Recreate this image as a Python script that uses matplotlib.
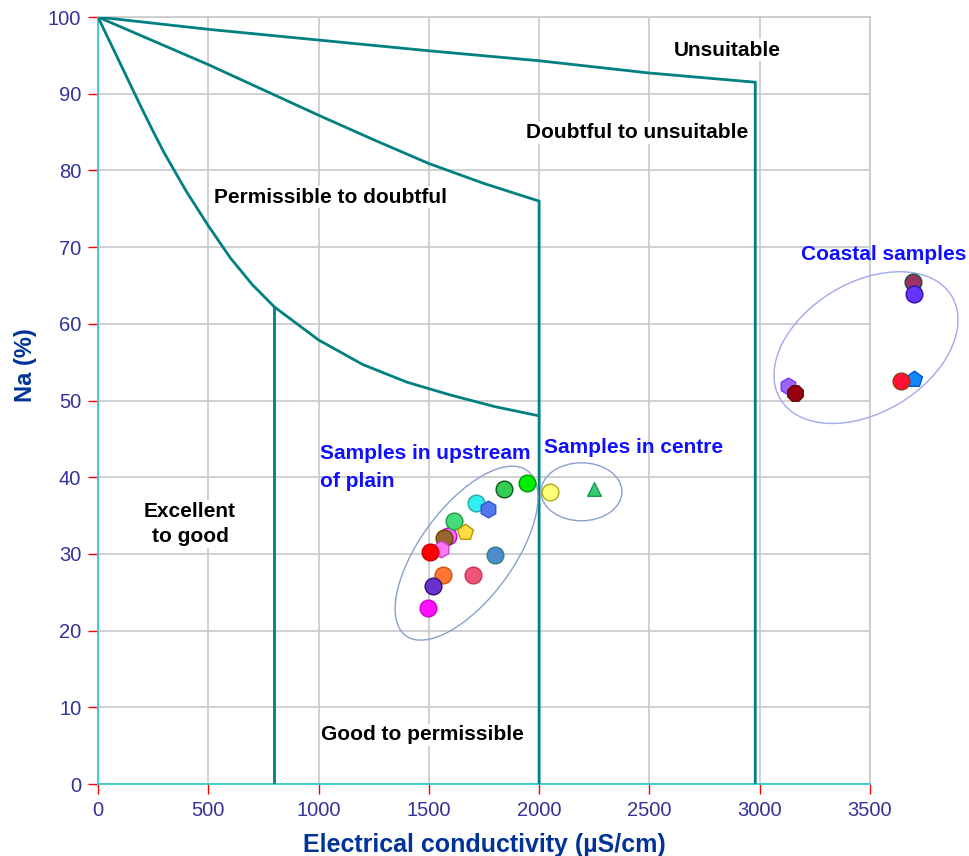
import numpy as np
import matplotlib
matplotlib.use("Agg")
import matplotlib.pyplot as plt
from matplotlib.patches import Ellipse
from matplotlib.transforms import ScaledTranslation

plt.rcParams['font.family'] = ['Liberation Sans', 'DejaVu Sans']

# Wilcox diagram boundaries
low_ec = [0, 50, 100, 150, 200, 250, 300, 400, 500, 600, 700, 800, 1000, 1200, 1400, 1600, 1800, 2000]
low_na = [100, 97.0, 94.0, 91.0, 88.0, 85.1, 82.3, 77.3, 72.8, 68.6, 65.1, 62.2, 57.9, 54.7, 52.4,
          50.7, 49.2, 48.0]
mid_ec = [0, 250, 500, 750, 1000, 1250, 1500, 1750, 2000, 2000]
mid_na = [100, 96.9, 93.8, 90.5, 87.2, 84.0, 80.9, 78.3, 76.0, 0]
top_ec = [0, 500, 1000, 1500, 2000, 2500, 2980, 2980]
top_na = [100, 98.4, 97.0, 95.6, 94.3, 92.7, 91.5, 0]
split_ec = [800, 800]
split_na = [0, 62.2]

# samples: EC (uS/cm), Na (%)
ec = [1586, 1568, 1843, 1943, 1715, 1767, 1613, 1666, 1553, 1506, 1802, 1566, 1702, 1518, 1498,
      2050, 2251,
      3695, 3698, 3701, 3642, 3128, 3161]
na = [32.3, 32.1, 38.4, 39.3, 36.7, 35.8, 34.3, 32.8, 30.6, 30.3, 29.8, 27.2, 27.3, 25.8, 23.0,
      38.1, 38.4,
      65.5, 63.9, 52.85, 52.5, 51.9, 51.0]
fills = ['#ff66ff', '#996633', '#33cc55', '#00ee00', '#33eeee', '#5577ee', '#44dd77', '#ffdd44',
         '#ff77ff', '#ff0000', '#4d8ccc', '#ff7733', '#ee5577', '#6633cc', '#ff11ff',
         '#ffff77', '#33cc77',
         '#993366', '#6633ff', '#1188ff', '#ff1133', '#9966ff', '#990011']
edges = ['#cc00cc', '#664400', '#115522', '#009900', '#22aaaa', '#3355cc', '#229944', '#bb9900',
         '#cc44cc', '#cc0000', '#228888', '#cc5511', '#cc3355', '#331177', '#cc00cc',
         '#aaaa22', '#119944',
         '#115533', '#3311aa', '#0055cc', '#993311', '#7733ff', '#660000']
shapes = ['o', 'o', 'o', 'o', 'o', 'h', 'o', 'p', 'h', 'o', 'o', 'o', 'o', 'o', 'o',
          'o', '^',
          'o', 'o', 'p', 'o', 'h', '8']

teal = '#008080'
navy = '#003399'

fig = plt.figure(figsize=(9.69, 8.56), dpi=100)
ax = fig.add_axes([0.1011, 0.0841, 0.7967, 0.896])

for xs, ys in [(low_ec, low_na), (mid_ec, mid_na), (top_ec, top_na), (split_ec, split_na)]:
    ax.plot(xs, ys, color=teal, lw=2, zorder=3, solid_joinstyle='miter')

for x, y, fc, e, m in zip(ec, na, fills, edges, shapes):
    s = 95 if m == '^' else 145
    ax.scatter(x, y, s=s, marker=m, c=fc, edgecolors=e, linewidths=1, zorder=5, clip_on=False)

# group outlines, sized in inches around a data centre
groups = [(1671, 30.1, 2.05, 0.93, 53.6, '#8aa0cc'),
          (2192, 38.1, 0.81, 0.58, 0, '#8aa0cc'),
          (3482, 56.9, 2.0, 1.3, 31, '#9fa8f0')]
for cx, cy, w, h, ang, col in groups:
    tr = fig.dpi_scale_trans + ScaledTranslation(cx, cy, ax.transData)
    el = Ellipse((0, 0), w, h, angle=ang, fill=False, edgecolor=col, lw=1,
                 transform=tr, clip_on=False, zorder=4)
    ax.add_patch(el)

box = dict(facecolor='white', edgecolor='none', pad=1)
zone_txt = dict(fontsize=15, fontweight='bold', color='black', ha='center', va='center',
                bbox=box, zorder=2)
ax.text(2851, 95.7, 'Unsuitable', **zone_txt)
ax.text(2443, 84.9, 'Doubtful to unsuitable', **zone_txt)
ax.text(1052, 76.5, 'Permissible to doubtful', **zone_txt)
ax.text(417, 33.9, 'Excellent\nto good', linespacing=1.45, **zone_txt)
ax.text(1473, 6.4, 'Good to permissible', **zone_txt)

grp_txt = dict(fontsize=15, fontweight='bold', color='#1010ff', va='center', zorder=6)
ax.text(1006, 41.3, 'Samples in upstream\nof plain', ha='left', linespacing=1.6, **grp_txt)
ax.text(2022, 43.9, 'Samples in centre', ha='left', **grp_txt)
ax.text(3187, 69.0, 'Coastal samples', ha='left', clip_on=False, **grp_txt)

ax.set_xlim(0, 3500)
ax.set_ylim(0, 100)
ax.set_xticks(np.arange(0, 3501, 500))
ax.set_yticks(np.arange(0, 101, 10))
ax.grid(True, color='#c8c8c8', lw=1.2)
ax.set_axisbelow(True)
ax.tick_params(direction='out', length=7, width=1, color='red', labelcolor='#333399',
               labelsize=14.5, pad=5)

for side in ['left', 'bottom']:
    ax.spines[side].set_color('#33cccc')
    ax.spines[side].set_linewidth(1.3)
for side in ['top', 'right']:
    ax.spines[side].set_color('#c8c8c8')
    ax.spines[side].set_linewidth(1.2)

ax.set_xlabel('Electrical conductivity (µS/cm)', fontsize=18, fontweight='bold', color=navy)
ax.set_ylabel('Na (%)', fontsize=17, fontweight='bold', color=navy)
ax.xaxis.set_label_coords(0.5, -0.064)
ax.yaxis.set_label_coords(-0.079, 0.546)

fig.savefig('out.png', dpi=100)
